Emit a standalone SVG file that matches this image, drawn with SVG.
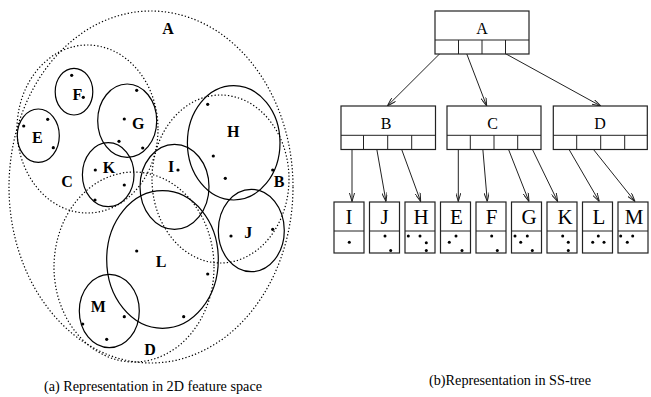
<svg xmlns="http://www.w3.org/2000/svg" width="651" height="397" viewBox="0 0 651 397">
<style>
.dot{fill:#000}
.dash{fill:none;stroke:#000;stroke-width:1.2;stroke-dasharray:1.3 2.1}
.sol{fill:none;stroke:#000;stroke-width:1.2}
.lbl{font-family:"Liberation Serif","Times New Roman",serif;font-weight:bold;font-size:16px;text-anchor:middle;fill:#000}
.box{fill:#fff;stroke:#222;stroke-width:1.2}
.ln{stroke:#222;stroke-width:1}
.tl{font-family:"Liberation Serif","Times New Roman",serif;font-size:16px;text-anchor:middle;fill:#000}
.ll{font-family:"Liberation Serif","Times New Roman",serif;font-size:21px;text-anchor:middle;fill:#000}
.cap{font-family:"Liberation Serif","Times New Roman",serif;font-size:15.5px;fill:#000}
.arr{fill:none;stroke:#222;stroke-width:1;marker-end:url(#ah)}
</style>
<defs>
<marker id="ah" markerUnits="userSpaceOnUse" viewBox="0 0 10 6" refX="10" refY="3" markerWidth="9" markerHeight="5.4" orient="auto">
<path d="M0,0 L10,3 L0,6" fill="none" stroke="#222" stroke-width="1.1"/>
</marker>
</defs>

<!-- Left: 2D feature space -->
<g id="A-region">
<ellipse class="dash" cx="151" cy="187" rx="142" ry="176"/>
<text class="lbl" x="168" y="34">A</text>
</g>
<g id="C-region">
<ellipse class="dash" cx="87.5" cy="129" rx="70.5" ry="84"/>
<text class="lbl" x="67" y="187">C</text>
</g>
<g id="B-region">
<ellipse class="dash" cx="220.5" cy="179" rx="68.5" ry="84"/>
<text class="lbl" x="279" y="187">B</text>
</g>
<g id="D-region">
<ellipse class="dash" cx="134" cy="267" rx="80" ry="95"/>
<text class="lbl" x="150" y="355">D</text>
</g>
<g id="F-region">
<ellipse class="sol" cx="74" cy="91.7" rx="18.8" ry="23.3"/>
<text class="lbl" x="77.5" y="99.5">F</text>
<circle class="dot" cx="71.7" cy="75.3" r="1.6"/><circle class="dot" cx="83.3" cy="97.3" r="1.6"/>
</g>
<g id="E-region">
<ellipse class="sol" cx="38.3" cy="135.7" rx="21" ry="26.7"/>
<text class="lbl" x="37.3" y="143">E</text>
<circle class="dot" cx="47.7" cy="119.3" r="1.6"/><circle class="dot" cx="23.7" cy="126" r="1.6"/><circle class="dot" cx="53.3" cy="147.7" r="1.6"/>
</g>
<g id="G-region">
<ellipse class="sol" cx="127.2" cy="120.7" rx="29.5" ry="36.7"/>
<text class="lbl" x="138.3" y="129">G</text>
<circle class="dot" cx="136.7" cy="90.3" r="1.6"/><circle class="dot" cx="124.3" cy="119" r="1.6"/><circle class="dot" cx="119" cy="141.3" r="1.6"/><circle class="dot" cx="142.7" cy="148" r="1.6"/>
</g>
<g id="K-region">
<ellipse class="sol" cx="108.2" cy="174.7" rx="25.8" ry="32"/>
<text class="lbl" x="109" y="172.5">K</text>
<circle class="dot" cx="95.3" cy="170" r="1.6"/><circle class="dot" cx="124.3" cy="185" r="1.6"/><circle class="dot" cx="95" cy="200" r="1.6"/>
</g>
<g id="H-region">
<ellipse class="sol" cx="233.7" cy="142.8" rx="46.3" ry="57.2"/>
<text class="lbl" x="233.3" y="136.5">H</text>
<circle class="dot" cx="207.7" cy="104.3" r="1.6"/><circle class="dot" cx="213.3" cy="156" r="1.6"/><circle class="dot" cx="225.3" cy="178.3" r="1.6"/><circle class="dot" cx="272.7" cy="170" r="1.6"/>
</g>
<g id="I-region">
<ellipse class="sol" cx="174.5" cy="186.8" rx="34.5" ry="42.5"/>
<text class="lbl" x="171" y="172">I</text>
<circle class="dot" cx="178" cy="170" r="1.6"/>
</g>
<g id="L-region">
<ellipse class="sol" cx="162.5" cy="259.5" rx="55.8" ry="68.8"/>
<text class="lbl" x="161" y="267">L</text>
<circle class="dot" cx="136.7" cy="251" r="1.6"/><circle class="dot" cx="207.7" cy="274" r="1.6"/><circle class="dot" cx="183.7" cy="316.7" r="1.6"/>
</g>
<g id="J-region">
<ellipse class="sol" cx="251.3" cy="230.5" rx="33" ry="41.2"/>
<text class="lbl" x="248.3" y="238">J</text>
<circle class="dot" cx="231" cy="236" r="1.6"/><circle class="dot" cx="272.7" cy="229.3" r="1.6"/>
</g>
<g id="M-region">
<ellipse class="sol" cx="109.3" cy="311" rx="30" ry="36.7"/>
<text class="lbl" x="98.3" y="311.5">M</text>
<circle class="dot" cx="124.3" cy="316.7" r="1.6"/><circle class="dot" cx="82.7" cy="324" r="1.6"/><circle class="dot" cx="106.7" cy="339.3" r="1.6"/>
</g>
<text class="cap" x="44" y="391" textLength="218" lengthAdjust="spacingAndGlyphs">(a) Representation in 2D feature space</text>

<!-- Right: SS-tree -->
<g id="connectors">
<line class="arr" x1="446" y1="47.5" x2="387.3" y2="106"/>
<line class="arr" x1="464.3" y1="47.5" x2="486.7" y2="106"/>
<line class="arr" x1="494.3" y1="47.5" x2="600.7" y2="106"/>
<line class="arr" x1="352" y1="143" x2="352" y2="201.5"/>
<line class="arr" x1="375.7" y1="143" x2="386" y2="201.5"/>
<line class="arr" x1="399.3" y1="143" x2="420.7" y2="201.5"/>
<line class="arr" x1="458.3" y1="143" x2="458.3" y2="201.5"/>
<line class="arr" x1="482.3" y1="143" x2="487.3" y2="201.5"/>
<line class="arr" x1="506" y1="143" x2="529" y2="201.5"/>
<line class="arr" x1="529.3" y1="143" x2="557.7" y2="201.5"/>
<line class="arr" x1="565.3" y1="143" x2="599.3" y2="201.5"/>
<line class="arr" x1="588.3" y1="143" x2="635" y2="201.5"/>
</g>
<g id="node-A">
<rect class="box" x="435" y="11" width="94" height="43"/>
<line class="ln" x1="435" y1="40" x2="529" y2="40"/>
<line class="ln" x1="458.5" y1="40" x2="458.5" y2="54"/><line class="ln" x1="482" y1="40" x2="482" y2="54"/><line class="ln" x1="505.5" y1="40" x2="505.5" y2="54"/>
<text class="tl" x="482" y="33.5">A</text>
</g>
<g id="node-B">
<rect class="box" x="341" y="106" width="94.5" height="43.5"/>
<line class="ln" x1="341" y1="135.3" x2="435.5" y2="135.3"/>
<line class="ln" x1="363.5" y1="135.3" x2="363.5" y2="149.5"/><line class="ln" x1="387.7" y1="135.3" x2="387.7" y2="149.5"/><line class="ln" x1="411.7" y1="135.3" x2="411.7" y2="149.5"/>
<text class="tl" x="386" y="128.5">B</text>
</g>
<g id="node-C">
<rect class="box" x="447" y="106" width="94" height="43.5"/>
<line class="ln" x1="447" y1="135.3" x2="541" y2="135.3"/>
<line class="ln" x1="470.3" y1="135.3" x2="470.3" y2="149.5"/><line class="ln" x1="494" y1="135.3" x2="494" y2="149.5"/><line class="ln" x1="517.7" y1="135.3" x2="517.7" y2="149.5"/>
<text class="tl" x="492.5" y="128.5">C</text>
</g>
<g id="node-D">
<rect class="box" x="553.3" y="106" width="94" height="43.5"/>
<line class="ln" x1="553.3" y1="135.3" x2="647.3" y2="135.3"/>
<line class="ln" x1="576.7" y1="135.3" x2="576.7" y2="149.5"/><line class="ln" x1="600.7" y1="135.3" x2="600.7" y2="149.5"/><line class="ln" x1="624.7" y1="135.3" x2="624.7" y2="149.5"/>
<text class="tl" x="600" y="128.5">D</text>
</g>
<g id="leaf-I">
<rect class="box" x="334" y="202" width="30" height="51"/><line class="ln" x1="334" y1="231" x2="364" y2="231"/>
<text class="ll" x="349" y="223.5">I</text>
<circle class="dot" cx="349.3" cy="242.3" r="1.5"/>
</g>
<g id="leaf-J">
<rect class="box" x="369.5" y="202" width="30" height="51"/><line class="ln" x1="369.5" y1="231" x2="399.5" y2="231"/>
<text class="ll" x="384.5" y="223.5">J</text>
<circle class="dot" cx="385" cy="236" r="1.5"/><circle class="dot" cx="390.7" cy="250.5" r="1.5"/>
</g>
<g id="leaf-H">
<rect class="box" x="405" y="202" width="30" height="51"/><line class="ln" x1="405" y1="231" x2="435" y2="231"/>
<text class="ll" x="421" y="223.5">H</text>
<circle class="dot" cx="408.3" cy="236" r="1.5"/><circle class="dot" cx="420" cy="236" r="1.5"/><circle class="dot" cx="426.3" cy="242.7" r="1.5"/><circle class="dot" cx="426.3" cy="250.5" r="1.5"/>
</g>
<g id="leaf-E">
<rect class="box" x="440.5" y="202" width="30" height="51"/><line class="ln" x1="440.5" y1="231" x2="470.5" y2="231"/>
<text class="ll" x="456.5" y="223.5">E</text>
<circle class="dot" cx="449.3" cy="242.3" r="1.5"/><circle class="dot" cx="456" cy="236" r="1.5"/><circle class="dot" cx="462" cy="250.5" r="1.5"/>
</g>
<g id="leaf-F">
<rect class="box" x="476" y="202" width="30" height="51"/><line class="ln" x1="476" y1="231" x2="506" y2="231"/>
<text class="ll" x="491.5" y="223.5">F</text>
<circle class="dot" cx="491.7" cy="236" r="1.5"/><circle class="dot" cx="497.3" cy="250.5" r="1.5"/>
</g>
<g id="leaf-G">
<rect class="box" x="511.5" y="202" width="30" height="51"/><line class="ln" x1="511.5" y1="231" x2="541.5" y2="231"/>
<text class="ll" x="529" y="223.5">G</text>
<circle class="dot" cx="515" cy="236" r="1.5"/><circle class="dot" cx="527.3" cy="236" r="1.5"/><circle class="dot" cx="520.7" cy="242.3" r="1.5"/><circle class="dot" cx="532.3" cy="250.5" r="1.5"/>
</g>
<g id="leaf-K">
<rect class="box" x="547" y="202" width="30" height="51"/><line class="ln" x1="547" y1="231" x2="577" y2="231"/>
<text class="ll" x="565" y="223.5">K</text>
<circle class="dot" cx="562.7" cy="236" r="1.5"/><circle class="dot" cx="568.3" cy="242.3" r="1.5"/><circle class="dot" cx="568.3" cy="250.5" r="1.5"/>
</g>
<g id="leaf-L">
<rect class="box" x="582.5" y="202" width="30" height="51"/><line class="ln" x1="582.5" y1="231" x2="612.5" y2="231"/>
<text class="ll" x="599" y="223.5">L</text>
<circle class="dot" cx="598.3" cy="236" r="1.5"/><circle class="dot" cx="592.7" cy="242.3" r="1.5"/><circle class="dot" cx="604" cy="242.3" r="1.5"/>
</g>
<g id="leaf-M">
<rect class="box" x="618" y="202" width="30" height="51"/><line class="ln" x1="618" y1="231" x2="648" y2="231"/>
<text class="ll" x="634" y="223.5">M</text>
<circle class="dot" cx="620.7" cy="236" r="1.5"/><circle class="dot" cx="632.7" cy="236" r="1.5"/><circle class="dot" cx="627.3" cy="242.3" r="1.5"/>
</g>
<text class="cap" x="429" y="385" textLength="162" lengthAdjust="spacingAndGlyphs">(b)Representation in SS-tree</text>
</svg>
